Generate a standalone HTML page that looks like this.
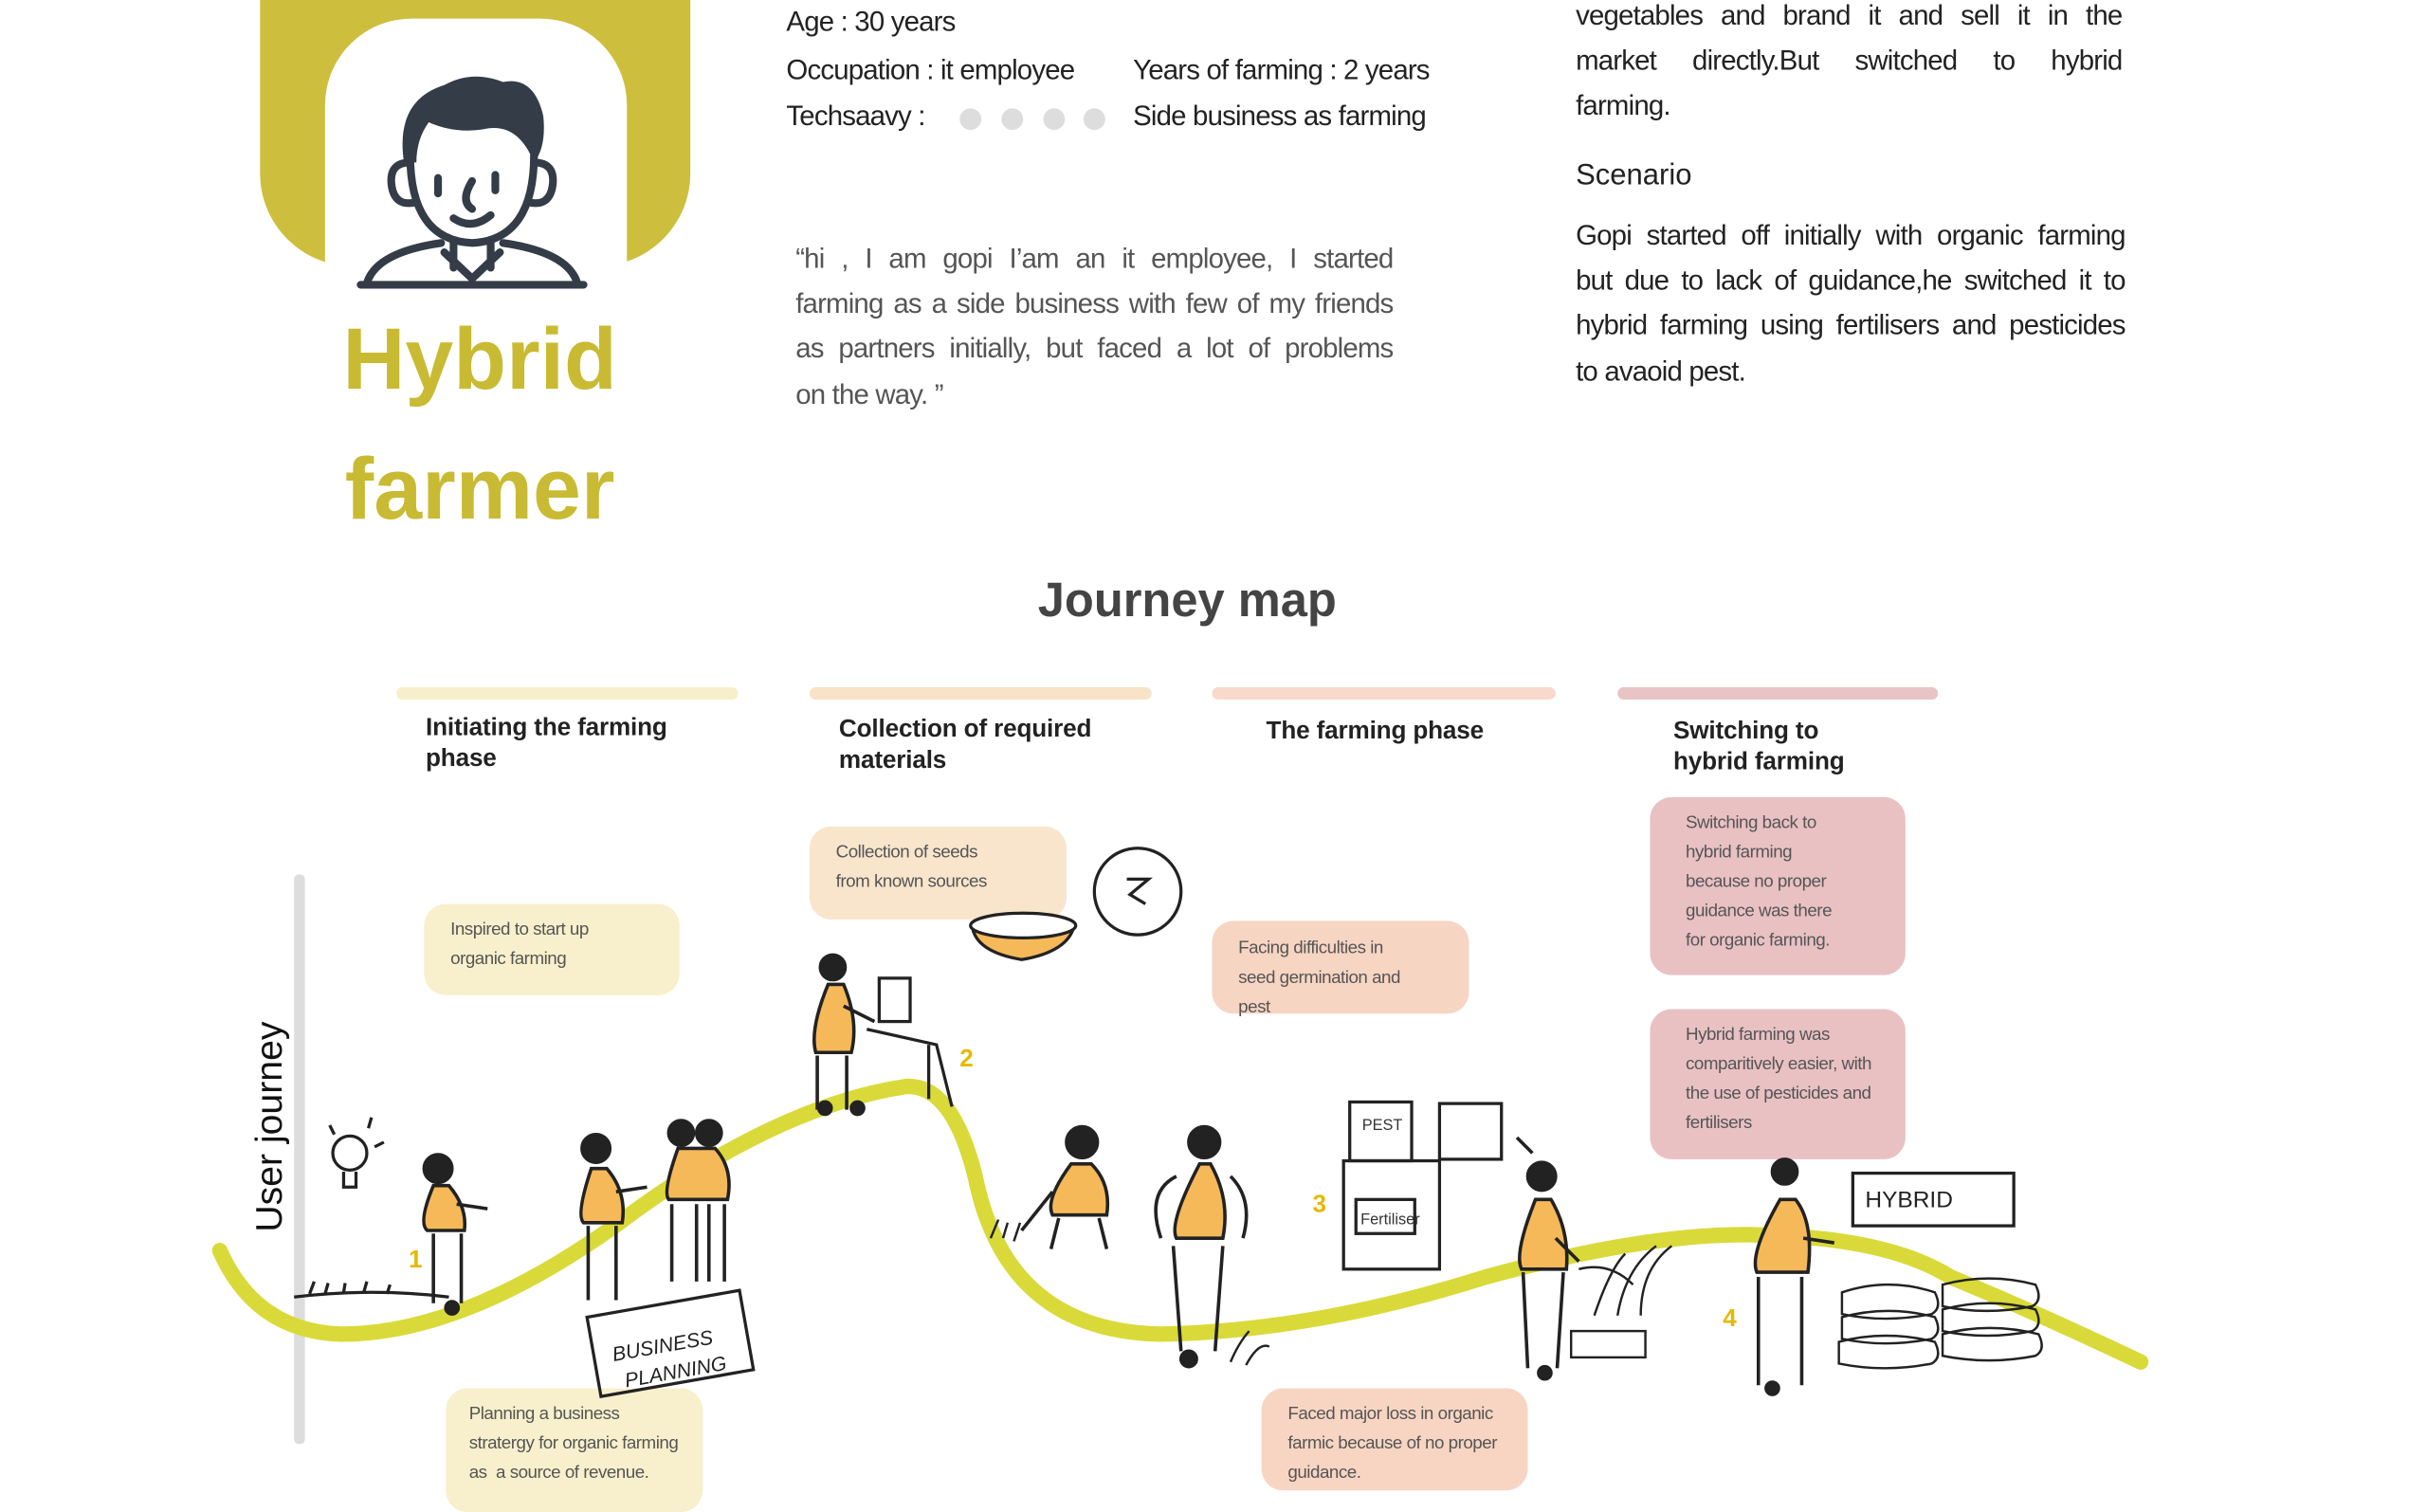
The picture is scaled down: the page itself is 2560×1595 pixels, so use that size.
<!DOCTYPE html>
<html><head><meta charset="utf-8">
<style>
html,body{margin:0;padding:0;background:#fff;width:2560px;height:1585px;overflow:hidden}
#w{position:absolute;left:0;top:0;width:1568px;height:971px;transform:scale(1.6327);transform-origin:0 0;font-family:"Liberation Sans",sans-serif}
.a{position:absolute;white-space:nowrap}
.t{font-size:18px;color:#222;letter-spacing:-0.5px}
.bar{position:absolute;height:8px;border-radius:4px;top:444px}
.ph{position:absolute;font-size:16px;color:#222;font-weight:bold;letter-spacing:-0.1px;line-height:20px}
.card{position:absolute;border-radius:14px;font-size:11.5px;color:#555;line-height:19px;padding:8px 0 0 17px;box-sizing:border-box;letter-spacing:-0.3px}
.L{position:absolute;font-size:18px;color:#222;letter-spacing:-0.5px;white-space:nowrap;text-align:justify;text-align-last:justify;height:29px;line-height:29px}
.q{color:#555}
</style></head><body><div id="w">
<div style="position:absolute;left:168px;top:0;width:278px;height:172px;background:#cdbf3d;border-radius:0 0 60px 60px"></div>
<div style="position:absolute;left:210px;top:12px;width:195px;height:175px;background:#fff;border-radius:56px 56px 0 0"></div>
<svg class="a" style="left:225px;top:45px" width="160" height="145" viewBox="0 0 160 145">
<g fill="none" stroke="#333c47" stroke-width="5" stroke-linecap="round">
<path d="M40 55 Q40 110 80 112 Q120 110 120 55"/>
<path d="M40 60 Q26 60 28 75 Q30 88 42 86"/><path d="M120 60 Q134 60 132 75 Q130 88 118 86"/>
<path d="M58 70 v10"/><path d="M95 68 v10"/><path d="M80 72 Q72 85 80 90"/><path d="M68 96 Q80 104 92 94"/>
<path d="M68 110 v18 M92 110 v18 M62 118 L80 135 L98 118"/>
<path d="M12 138 Q18 118 60 112 M148 138 Q142 118 100 112"/>
<path d="M8 139 H152"/></g>
<path d="M36 60 Q30 20 62 10 Q80 0 100 8 Q120 4 126 30 Q128 50 120 60 Q110 35 90 38 Q70 42 52 34 Q44 45 44 60Z" fill="#333c47"/></svg>
<div class="a" style="left:210px;top:190px;width:200px;text-align:center;font-size:56px;font-weight:bold;color:#c9ba33;line-height:84px">Hybrid<br>farmer</div>
<div class="a t" style="left:508px;top:4px">Age : 30 years</div>
<div class="a t" style="left:508px;top:35px">Occupation : it employee</div>
<div class="a t" style="left:732px;top:35px">Years of farming : 2 years</div>
<div class="a t" style="left:508px;top:65px">Techsaavy :</div>
<div class="a t" style="left:732px;top:65px">Side business as farming</div>
<svg class="a" style="left:615px;top:68px" width="120" height="20"><g fill="#ddd"><circle cx="12" cy="9" r="7"/><circle cx="39" cy="9" r="7"/><circle cx="66" cy="9" r="7"/><circle cx="92" cy="9" r="7"/></g></svg>
<div class="L q" style="left:514px;top:153px;width:386px">“hi , I am gopi I’am an it employee, I started</div>
<div class="L q" style="left:514px;top:182px;width:386px">farming as a side business with few of my friends</div>
<div class="L q" style="left:514px;top:211px;width:386px">as partners initially, but faced a lot of problems</div>
<div class="L q" style="left:514px;top:241px;text-align-last:left">on the way. ”</div>
<div class="L" style="left:1018px;top:-4px;width:353px">vegetables and brand it and sell it in the</div>
<div class="L" style="left:1018px;top:25px;width:353px">market directly.But switched to hybrid</div>
<div class="L" style="left:1018px;top:54px;text-align-last:left">farming.</div>
<div class="a" style="left:1018px;top:103px;font-size:19px;color:#222">Scenario</div>
<div class="L" style="left:1018px;top:138px;width:355px">Gopi started off initially with organic farming</div>
<div class="L" style="left:1018px;top:167px;width:355px">but due to lack of guidance,he switched it to</div>
<div class="L" style="left:1018px;top:196px;width:355px">hybrid farming using fertilisers and pesticides</div>
<div class="L" style="left:1018px;top:226px;text-align-last:left">to avaoid pest.</div>
<div class="a" style="left:567px;top:370px;width:400px;text-align:center;font-size:31px;font-weight:bold;color:#444">Journey map</div>
<div class="bar" style="left:256px;width:221px;background:#f7efcc"></div>
<div class="bar" style="left:523px;width:221px;background:#f8e3c9"></div>
<div class="bar" style="left:783px;width:222px;background:#f8d9cc"></div>
<div class="bar" style="left:1045px;width:207px;background:#e9c4c6"></div>
<div class="ph" style="left:275px;top:461px">Initiating the farming<br>phase</div>
<div class="ph" style="left:542px;top:462px">Collection of required<br>materials</div>
<div class="ph" style="left:818px;top:463px">The farming phase</div>
<div class="ph" style="left:1081px;top:463px">Switching to<br>hybrid farming</div>
<div style="position:absolute;left:190px;top:565px;width:7px;height:368px;background:#ddd;border-radius:3px"></div>
<div class="a" style="left:175px;top:728px;transform:translate(-50%,-50%) rotate(-90deg);font-size:24px;color:#111">User journey</div>
<div class="card" style="left:274px;top:584px;width:165px;height:59px;background:#f8f0cc">Inspired to start up<br>organic farming</div>
<div class="card" style="left:523px;top:534px;width:166px;height:60px;background:#f8e5cc">Collection of seeds<br>from known sources</div>
<div class="card" style="left:783px;top:595px;width:166px;height:60px;background:#f7d5c3;padding-top:9px">Facing difficulties in<br>seed germination and<br>pest</div>
<div class="card" style="left:1066px;top:515px;width:165px;height:115px;background:#e9c1c3;padding-left:23px">Switching back to<br>hybrid farming<br>because no proper<br>guidance was there<br>for organic farming.</div>
<div class="card" style="left:1066px;top:652px;width:165px;height:97px;background:#e9c1c3;padding-left:23px">Hybrid farming was<br>comparitively easier, with<br>the use of pesticides and<br>fertilisers</div>
<div class="card" style="left:288px;top:897px;width:166px;height:80px;background:#f8f0cc;padding-left:15px">Planning a business<br>stratergy for organic farming<br>as &nbsp;a source of revenue.</div>
<div class="card" style="left:815px;top:897px;width:172px;height:66px;background:#f8d5c3">Faced major loss in organic<br>farmic because of no proper<br>guidance.</div>
<svg class="a" style="left:0;top:0" width="1568" height="971" viewBox="0 0 1568 971">
<path d="M142 808 Q165 860 220 862 Q300 862 400 790 Q500 715 585 702 Q615 700 630 760 Q650 860 750 862 Q850 860 960 825 Q1070 795 1140 798 Q1220 800 1260 825 Q1320 850 1383 880" fill="none" stroke="#d9da3a" stroke-width="10" stroke-linecap="round"/>
<g font-family="Liberation Sans" font-weight="bold" font-size="16" fill="#e5b800"><text x="264" y="819">1</text><text x="620" y="689">2</text><text x="848" y="783">3</text><text x="1113" y="857">4</text></g>
<g stroke="#222" stroke-width="2" fill="none">
<path d="M190 838 Q240 832 290 838"/><path d="M200 836 l3 -8 M210 836 l2 -7 M222 835 l1 -6 M235 835 l2 -7 M250 836 l2 -6"/>
<circle cx="226" cy="745" r="11"/><path d="M222 757 v10 h8 v-10"/>
<path d="M213 727 l3 6 M240 722 l-2 7 M248 738 l-6 3"/>
<rect x="383" y="842" width="100" height="52" transform="rotate(-10 433 868)"/>
<path d="M628 598 Q630 615 660 620 Q690 615 694 598Z" fill="#f5b95a"/>
<ellipse cx="661" cy="598" rx="34" ry="8" fill="#fff"/>
<circle cx="735" cy="576" r="28"/><path d="M728 568 h14 l-12 10 l10 6"/>
<rect x="568" y="632" width="20" height="28"/><path d="M560 665 l45 10 l10 40 M600 675 v35"/>
<rect x="872" y="712" width="40" height="38"/><rect x="930" y="713" width="40" height="36"/><rect x="868" y="750" width="62" height="70"/>
<rect x="876" y="775" width="38" height="22"/><text x="879" y="791" font-size="10" fill="#333" stroke="none">Fertiliser</text>
<text x="880" y="730" font-size="10" fill="#333" stroke="none">PEST</text>
<rect x="1197" y="758" width="104" height="34"/><text x="1205" y="780" font-size="15" fill="#222" stroke="none">HYBRID</text>
<text x="395" y="873" font-size="13" font-style="italic" fill="#222" stroke="none" transform="rotate(-10 433 868)">BUSINESS</text>
<text x="400" y="891" font-size="13" font-style="italic" fill="#222" stroke="none" transform="rotate(-10 433 868)">PLANNING</text>
<g stroke-width="1.5"><path d="M1190 835 q30 -10 60 0 q5 10 -2 14 q-30 6 -58 0z M1190 851 q30 -8 60 0 q5 10 -2 14 q-30 6 -58 0z M1188 867 q30 -8 62 0 q5 10 -2 14 q-30 6 -60 0z M1255 830 q30 -8 60 0 q5 10 -2 14 q-30 6 -58 0z M1255 846 q30 -8 60 0 q5 10 -2 14 q-30 6 -58 0z M1255 862 q30 -8 62 0 q5 10 -2 14 q-30 6 -60 0z"/>
<path d="M1030 850 q10 -30 20 -40 M1045 850 q5 -30 25 -45 M1060 850 q0 -30 20 -45 M1020 820 q20 -5 35 10"/><rect x="1015" y="860" width="48" height="17"/>
<path d="M795 880 q5 -12 12 -20 M805 882 q8 -15 15 -12 M640 800 l5 -12 M648 800 l3 -10 M655 802 l4 -12"/></g>
</g>
<g stroke="#222" stroke-width="2.2">
<circle cx="283" cy="755" r="9" fill="#222"/><path d="M280 766 Q270 790 276 795 L300 795 Q302 780 290 766Z" fill="#f5b95a"/><path d="M280 797 v45 M298 797 v45 M295 778 l20 3"/><circle cx="292" cy="845" r="4" fill="#222"/>
<circle cx="385" cy="742" r="9" fill="#222"/><path d="M382 755 Q372 785 377 790 L402 790 Q405 770 392 755Z" fill="#f5b95a"/><path d="M380 792 v48 M398 792 v48 M398 770 l20 -3"/>
<circle cx="440" cy="732" r="8" fill="#222"/><circle cx="458" cy="732" r="8" fill="#222"/><path d="M438 742 Q428 770 432 775 L470 775 Q474 755 462 742Z" fill="#f5b95a"/><path d="M434 778 v50 M450 778 v50 M458 778 v50 M468 778 v50"/>
<circle cx="538" cy="625" r="8" fill="#222"/><path d="M535 636 Q523 665 527 680 L550 680 Q555 660 545 636Z" fill="#f5b95a"/><path d="M528 682 v35 M547 682 v35 M545 650 l20 10"/><circle cx="533" cy="716" r="4" fill="#222"/><circle cx="554" cy="716" r="4" fill="#222"/>
<circle cx="699" cy="738" r="10" fill="#222"/><path d="M692 752 Q675 775 680 785 L715 785 Q718 765 705 752Z" fill="#f5b95a"/><path d="M684 787 l-5 20 M710 787 l5 20 M680 770 l-20 25"/>
<circle cx="778" cy="738" r="10" fill="#222"/><path d="M775 752 Q755 790 760 800 L790 800 Q795 775 782 752Z" fill="#f5b95a"/><path d="M760 760 q-20 10 -10 40 M795 760 q15 15 8 40" fill="none"/><path d="M758 805 l5 68 M790 805 l-5 68"/><circle cx="768" cy="878" r="5" fill="#222"/>
<circle cx="996" cy="760" r="9" fill="#222"/><path d="M992 775 Q978 810 983 820 L1012 820 Q1014 795 1002 775Z" fill="#f5b95a"/><path d="M984 822 l3 62 M1010 822 l-4 62 M1005 800 l15 15 M990 745 l-10 -10"/><circle cx="998" cy="887" r="4" fill="#222"/>
<circle cx="1153" cy="757" r="8" fill="#222"/><path d="M1150 775 Q1130 810 1135 822 L1168 822 Q1172 790 1160 775Z" fill="#f5b95a"/><path d="M1136 825 v70 M1164 825 v70 M1165 800 l20 3"/><circle cx="1145" cy="897" r="4" fill="#222"/>
</g>
</svg>
</div></body></html>
